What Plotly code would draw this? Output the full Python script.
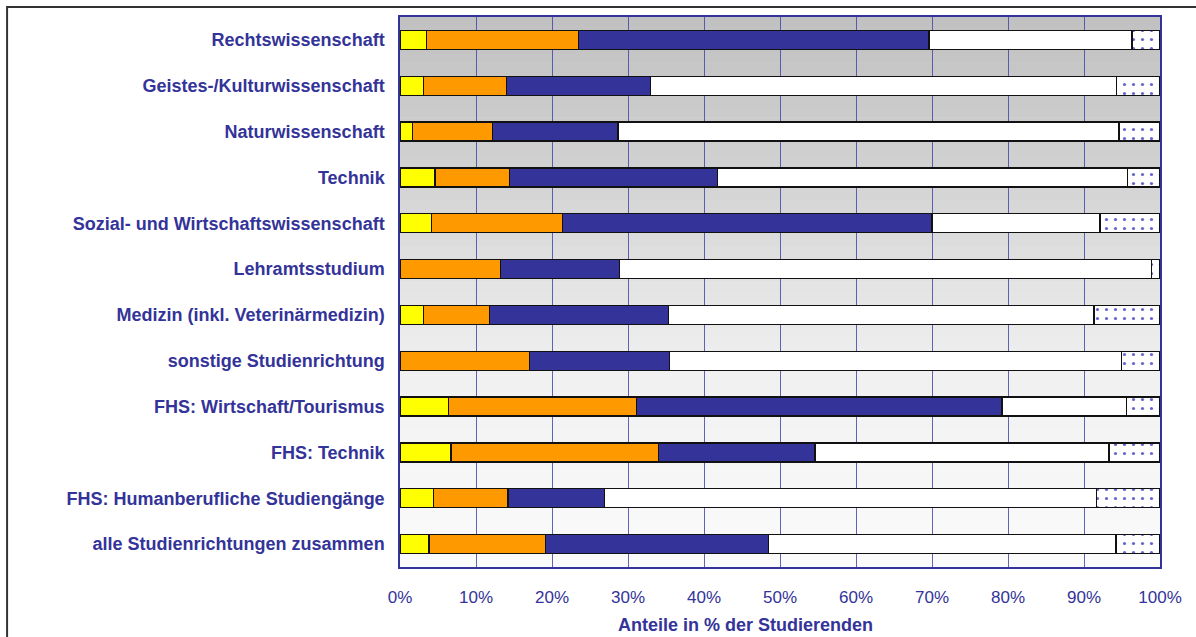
import plotly.graph_objects as go

# Fields of study (top to bottom)
categories = [
    "Rechtswissenschaft",
    "Geistes-/Kulturwissenschaft",
    "Naturwissenschaft",
    "Technik",
    "Sozial- und Wirtschaftswissenschaft",
    "Lehramtsstudium",
    "Medizin (inkl. Veterinärmedizin)",
    "sonstige Studienrichtung",
    "FHS: Wirtschaft/Tourismus",
    "FHS: Technik",
    "FHS: Humanberufliche Studiengänge",
    "alle Studienrichtungen zusammen",
]

# Shares in % of students, one list per stacked segment
seg_yellow = [3.5, 3.1, 1.6, 4.6, 4.1, 0.0, 3.1, 0.0, 6.4, 6.7, 4.4, 3.8]
seg_orange = [20.0, 10.9, 10.6, 9.8, 17.3, 13.2, 8.7, 17.0, 24.7, 27.3, 9.8, 15.3]
seg_blue = [46.1, 19.0, 16.5, 27.4, 48.6, 15.7, 23.5, 18.5, 48.1, 20.6, 12.7, 29.4]
seg_white = [26.7, 61.3, 65.9, 53.9, 22.1, 70.0, 56.0, 59.4, 16.4, 38.7, 64.7, 45.7]
seg_dotted = [3.7, 5.7, 5.4, 4.3, 7.9, 1.1, 8.7, 5.1, 4.4, 6.7, 8.4, 5.8]

x_ticks = [0, 10, 20, 30, 40, 50, 60, 70, 80, 90, 100]
x_tick_labels = [f"{v}%" for v in x_ticks]

NAVY = "#333399"
FONT = "Liberation Sans, Arial, sans-serif"

fig = go.Figure()

segments = [
    (seg_yellow, "#FFFF00", None),
    (seg_orange, "#FF9900", None),
    (seg_blue, "#333399", None),
    (seg_white, "#FFFFFF", None),
    (seg_dotted, "#FFFFFF", dict(shape=".", fgcolor="#6666CC", bgcolor="#FFFFFF",
                                  size=9, solidity=0.1, fillmode="replace")),
]
for vals, color, pattern in segments:
    marker = dict(color=color, line=dict(color="#111111", width=1.3))
    if pattern is not None:
        marker["pattern"] = pattern
    fig.add_trace(go.Bar(
        y=categories, x=vals, orientation="h", marker=marker,
        showlegend=False, hoverinfo="x+y",
    ))

# Vertical grey gradient behind the plot area (dark at top, nearly white at bottom)
stops = [(0.0, 192), (0.26, 208), (0.64, 240), (1.0, 251)]


def shade(t):
    for (t0, c0), (t1, c1) in zip(stops[:-1], stops[1:]):
        if t0 <= t <= t1:
            return c0 + (c1 - c0) * (t - t0) / (t1 - t0)
    return stops[-1][1]


shapes = []
n_steps = 60
for i in range(n_steps):
    top = 1 - i / n_steps
    bot = 1 - (i + 1) / n_steps
    g = int(round(shade((i + 0.5) / n_steps)))
    shapes.append(dict(
        type="rect", xref="x domain", yref="y domain",
        x0=0, x1=1, y0=bot, y1=top + 0.001,
        fillcolor=f"rgb({g},{g},{g})", line=dict(width=0), layer="below",
    ))

# Outer frame of the chart
shapes.append(dict(
    type="rect", xref="paper", yref="paper",
    x0=-0.517, x1=2.0, y0=-2.0, y1=1.018,
    line=dict(color="#333333", width=2), fillcolor="rgba(0,0,0,0)", layer="above",
))

fig.update_layout(
    barmode="stack",
    bargap=0.585,
    width=1196,
    height=637,
    margin=dict(l=400, r=36, t=17, b=70),
    paper_bgcolor="white",
    plot_bgcolor="white",
    shapes=shapes,
    font=dict(family=FONT, color=NAVY),
    annotations=[dict(
        text="<b>Anteile in % der Studierenden</b>",
        xref="paper", yref="paper", x=(745 - 400) / 760, y=(567 - 625) / 550,
        xanchor="center", yanchor="middle", showarrow=False,
        font=dict(family=FONT, size=18, color=NAVY),
    )],
)

fig.update_xaxes(
    range=[0, 100],
    tickvals=x_ticks,
    ticktext=x_tick_labels,
    tickfont=dict(family=FONT, size=17, color=NAVY),
    showgrid=True,
    gridcolor="rgba(70,70,170,0.85)",
    gridwidth=1,
    showline=True,
    linecolor=NAVY,
    linewidth=1.5,
    mirror=True,
    ticks="outside",
    ticklen=0,
    ticklabelstandoff=14,
    zeroline=False,
)
fig.update_yaxes(
    autorange="reversed",
    tickfont=dict(family=FONT, size=18, color=NAVY, weight="bold"),
    showgrid=False,
    showline=True,
    linecolor=NAVY,
    linewidth=1.5,
    mirror=True,
    ticks="outside",
    ticklen=0,
    ticklabelstandoff=10,
)

fig.write_html("out.html")
